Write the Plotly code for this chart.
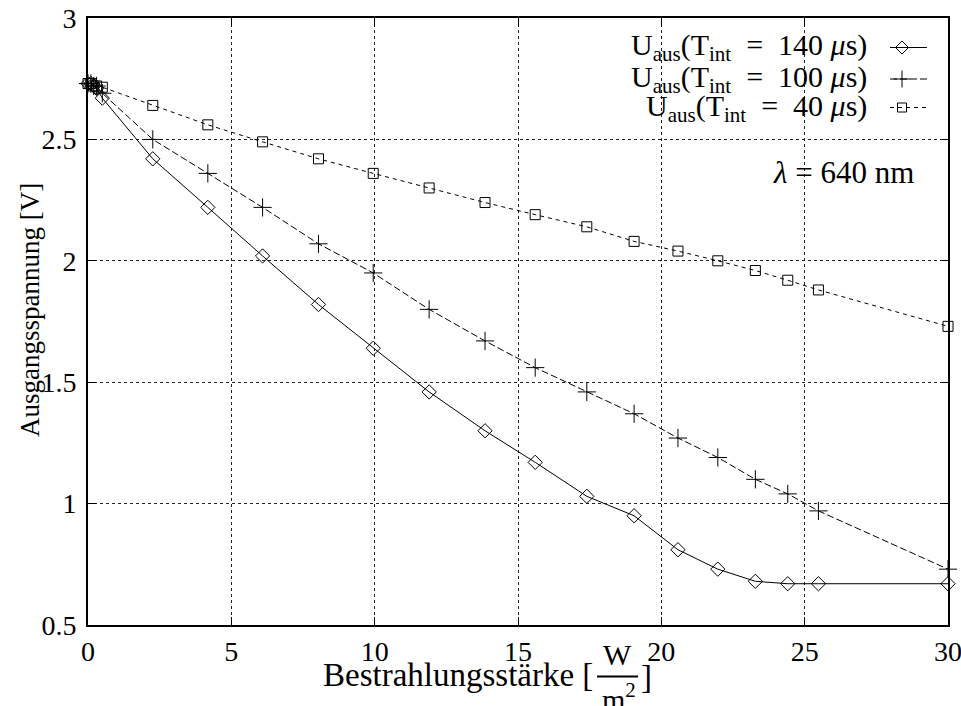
import plotly.graph_objects as go

# ---- data ----
irradiance = [0, 0.1, 0.2, 0.3, 0.5, 2.26, 4.18, 6.09, 8.04, 9.95, 11.9, 13.85,
              15.6, 17.4, 19.05, 20.58, 21.97, 23.28, 24.41, 25.48, 30]
u_140 = [2.73, 2.73, 2.72, 2.71, 2.67, 2.42, 2.22, 2.02, 1.82, 1.64, 1.46, 1.30,
         1.17, 1.03, 0.95, 0.81, 0.73, 0.68, 0.67, 0.67, 0.67]
u_100 = [2.73, 2.73, 2.72, 2.72, 2.69, 2.50, 2.36, 2.22, 2.07, 1.95, 1.80, 1.67,
         1.56, 1.46, 1.37, 1.27, 1.19, 1.10, 1.04, 0.97, 0.73]
u_40 = [2.73, 2.73, 2.72, 2.72, 2.715, 2.64, 2.56, 2.49, 2.42, 2.36, 2.30, 2.24,
        2.19, 2.14, 2.08, 2.04, 2.00, 1.96, 1.92, 1.88, 1.73]

NB = "\u00a0"
series_labels = [
    f"U<sub>aus</sub>(T<sub>int</sub>{NB}{NB}={NB}{NB}140{NB}<i>μ</i>s)",
    f"U<sub>aus</sub>(T<sub>int</sub>{NB}{NB}={NB}{NB}100{NB}<i>μ</i>s)",
    f"U<sub>aus</sub>(T<sub>int</sub>{NB}{NB}={NB}{NB}40{NB}<i>μ</i>s)",
]
x_ticks = [0, 5, 10, 15, 20, 25, 30]
y_ticks = [0.5, 1, 1.5, 2, 2.5, 3]

FONT = "Liberation Serif"
styles = [
    dict(dash="solid", symbol="diamond-open", size=11),
    dict(dash="7px,3px", symbol="cross-thin-open", size=13),
    dict(dash="4px,4px", symbol="square-open", size=10),
]

# plot area in pixels (for placing the decorative texts)
L, R, T, B = 88, 948, 18, 625
W_PX, H_PX = R - L, B - T


def px(xp):
    return (xp - L) / W_PX


def py(yp):
    return 1 - (yp - T) / H_PX


fig = go.Figure()
for ys, st in zip([u_140, u_100, u_40], styles):
    fig.add_trace(go.Scatter(
        x=irradiance, y=ys, mode="lines+markers", cliponaxis=False,
        line=dict(color="black", width=1, dash=st["dash"]),
        marker=dict(symbol=st["symbol"], size=st["size"], color="black",
                    line=dict(color="black", width=1)),
        showlegend=False, hoverinfo="x+y"))

# custom legend: text on the left, line sample with marker on the right
legend_rows = [py(47.5), py(79), py(107.5)]
for row, st, lab in zip(legend_rows, styles, series_labels):
    fig.add_trace(go.Scatter(
        x=[px(890), px(927)], y=[row, row], mode="lines", xaxis="x2", yaxis="y2",
        line=dict(color="black", width=1, dash=st["dash"]),
        showlegend=False, hoverinfo="skip"))
    fig.add_trace(go.Scatter(
        x=[px(902)], y=[row], mode="markers", xaxis="x2", yaxis="y2",
        marker=dict(symbol=st["symbol"], size=st["size"] - 1, color="black",
                    line=dict(color="black", width=1)),
        showlegend=False, hoverinfo="skip"))
    fig.add_annotation(text=lab, xref="paper", yref="paper", x=px(869), y=row,
                       xanchor="right", yanchor="middle", showarrow=False,
                       font=dict(family=FONT, size=30, color="black"))

fig.add_annotation(text=f"<i>λ</i>{NB}={NB}640{NB}nm", xref="paper", yref="paper",
                   x=px(916), y=py(172), xanchor="right", yanchor="middle",
                   showarrow=False, font=dict(family=FONT, size=31, color="black"))

# axis titles
fig.add_annotation(text="Ausgangsspannung [V]", xref="paper", yref="paper",
                   x=px(30), y=py(310), xanchor="center", yanchor="middle",
                   textangle=-90, showarrow=False,
                   font=dict(family=FONT, size=27, color="black"))
fig.add_annotation(text="Bestrahlungsstärke [", xref="paper", yref="paper",
                   x=px(595), y=py(675), xanchor="right", yanchor="middle",
                   showarrow=False, font=dict(family=FONT, size=33, color="black"))
fig.add_annotation(text="W", xref="paper", yref="paper",
                   x=px(617), y=py(654), xanchor="center", yanchor="middle",
                   showarrow=False, font=dict(family=FONT, size=30, color="black"))
fig.add_annotation(text="m<sup>2</sup>", xref="paper", yref="paper",
                   x=px(619), y=py(697), xanchor="center", yanchor="middle",
                   showarrow=False, font=dict(family=FONT, size=30, color="black"))
fig.add_annotation(text="]", xref="paper", yref="paper",
                   x=px(639), y=py(677), xanchor="left", yanchor="middle",
                   showarrow=False, font=dict(family=FONT, size=33, color="black"))
fig.add_shape(type="line", xref="paper", yref="paper",
              x0=px(597), x1=px(638), y0=py(676.5), y1=py(676.5),
              line=dict(color="black", width=2))

axis_common = dict(
    showline=True, linecolor="black", linewidth=2, mirror="ticks",
    ticks="inside", ticklen=8, tickcolor="black", tickwidth=1,
    showgrid=True, gridcolor="#222222", gridwidth=1, griddash="dot",
    zeroline=False, automargin=False, ticklabeloverflow="allow",
    tickfont=dict(family=FONT, size=28, color="black"),
)

fig.update_layout(
    width=961, height=706,
    margin=dict(l=L, r=961 - R, t=T, b=706 - B, autoexpand=False),
    paper_bgcolor="white", plot_bgcolor="white",
    xaxis=dict(range=[0, 30], tickvals=x_ticks,
               ticktext=[str(v) for v in x_ticks], **axis_common),
    yaxis=dict(range=[0.5, 3], tickvals=y_ticks,
               ticktext=[f"{v:g}" for v in y_ticks], ticklabelstandoff=4,
               **axis_common),
    xaxis2=dict(overlaying="x", range=[0, 1], visible=False),
    yaxis2=dict(overlaying="y", range=[0, 1], visible=False),
    showlegend=False,
)

fig.write_html(
    "out.html",
    config={"displayModeBar": False},
    post_script="document.body.style.margin='0';"
                "document.body.style.overflow='hidden';",
)
